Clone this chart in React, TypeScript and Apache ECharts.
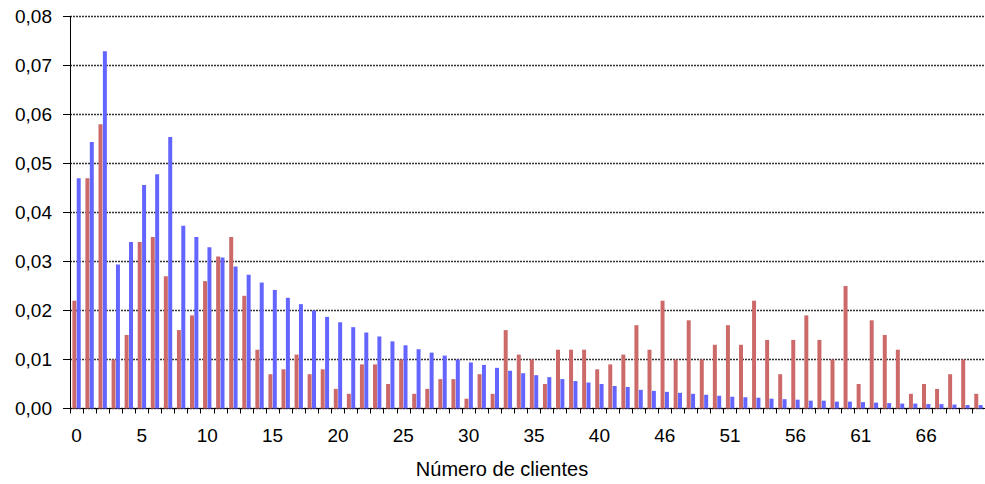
import React, { useEffect, useRef } from "react";
import * as echarts from "echarts";

const categories: string[] = [
  "0","1","2","3","4","5","6","7","8","9",
  "10","11","12","13","14","15","16","17","18","19",
  "20","21","22","23","24","25","26","27","28","29",
  "30","31","32","33","34","35","36","37","38","39",
  "40","42","43","44","45","46","47","48","49","50",
  "51","52","53","54","55","56","57","58","59","60",
  "61","62","63","64","65","66","67","68","69","70",
];

const redSeries: number[] = [
  0.022, 0.047, 0.058, 0.010, 0.015, 0.034, 0.035, 0.027, 0.016, 0.019,
  0.026, 0.031, 0.035, 0.023, 0.012, 0.007, 0.008, 0.011, 0.007, 0.008,
  0.004, 0.003, 0.009, 0.009, 0.005, 0.010, 0.003, 0.004, 0.006, 0.006,
  0.002, 0.007, 0.003, 0.016, 0.011, 0.010, 0.005, 0.012, 0.012, 0.012,
  0.008, 0.009, 0.011, 0.017, 0.012, 0.022, 0.010, 0.018, 0.010, 0.013,
  0.017, 0.013, 0.022, 0.014, 0.007, 0.014, 0.019, 0.014, 0.010, 0.025,
  0.005, 0.018, 0.015, 0.012, 0.003, 0.005, 0.004, 0.007, 0.010, 0.003,
];

const blueSeries: number[] = [
  0.0470, 0.0544, 0.0729, 0.0294, 0.0340, 0.0456, 0.0478, 0.0554, 0.0373, 0.0350,
  0.0329, 0.0308, 0.0290, 0.0273, 0.0257, 0.0242, 0.0226, 0.0213, 0.0200, 0.0187,
  0.0176, 0.0166, 0.0155, 0.0147, 0.0137, 0.0129, 0.0121, 0.0114, 0.0108, 0.0100,
  0.0094, 0.0089, 0.0083, 0.0077, 0.0072, 0.0068, 0.0064, 0.0060, 0.0056, 0.0053,
  0.0050, 0.0046, 0.0044, 0.0038, 0.0036, 0.0034, 0.0032, 0.0030, 0.0028, 0.0026,
  0.0024, 0.0023, 0.0022, 0.0020, 0.0019, 0.0018, 0.0016, 0.0016, 0.0014, 0.0014,
  0.0013, 0.0012, 0.0011, 0.0010, 0.0010, 0.0009, 0.0009, 0.0008, 0.0007, 0.0007,
];

const xTitle = "Número de clientes";

const FONT = "'Liberation Sans', Arial, sans-serif";

export default function App() {
  const ref = useRef<HTMLDivElement>(null);
  useEffect(() => {
    if (!ref.current) return;
    const chart = echarts.init(ref.current, undefined, { renderer: "svg" });
    chart.setOption({
      animation: false,
      backgroundColor: "#ffffff",
      grid: { left: 70, right: 0, top: 16.5, bottom: 75.5, containLabel: false },
      xAxis: {
        type: "category",
        data: categories,
        boundaryGap: true,
        axisLine: { show: true, lineStyle: { color: "#000", width: 1 } },
        axisTick: { show: true, interval: 0, length: 5, lineStyle: { color: "#000" } },
        axisLabel: {
          interval: (i: number) => i % 5 === 0,
          color: "#000",
          fontSize: 19,
          fontFamily: FONT,
          margin: 17,
        },
        splitLine: { show: false },
      },
      yAxis: {
        type: "value",
        min: 0,
        max: 0.08,
        interval: 0.01,
        axisLine: { show: true, lineStyle: { color: "#000", width: 1 } },
        axisTick: { show: true, length: 7, lineStyle: { color: "#000" } },
        axisLabel: {
          formatter: (v: number) => v.toFixed(2).replace(".", ","),
          color: "#000",
          fontSize: 19,
          fontFamily: FONT,
          margin: 18,
        },
        splitLine: {
          show: true,
          lineStyle: { color: "#333", type: [2, 1], width: 1.4 },
        },
      },
      graphic: [
        {
          type: "text",
          x: 502,
          y: 469,
          style: {
            text: xTitle,
            fill: "#000",
            font: `20px ${FONT}`,
            textAlign: "center",
            textVerticalAlign: "middle",
          },
        },
      ],
      series: [
        {
          type: "bar",
          data: redSeries,
          itemStyle: { color: "#CC6A6A" },
          barGap: "10%",
          barCategoryGap: "36%",
        },
        {
          type: "bar",
          data: blueSeries,
          itemStyle: { color: "#6464FF" },
          barGap: "10%",
          barCategoryGap: "36%",
        },
      ],
    });
    return () => chart.dispose();
  }, []);
  return (
    <div
      ref={ref}
      style={{ position: "absolute", left: 0, top: 0, width: 985, height: 484 }}
    />
  );
}
